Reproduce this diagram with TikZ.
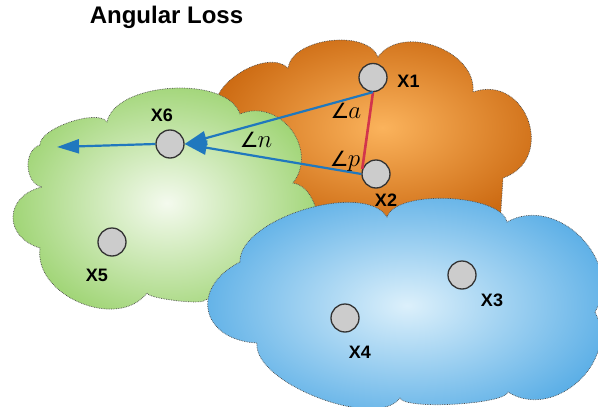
\RequirePackage{fix-cm}
\documentclass[tikz,border=0pt]{standalone}
\usepackage{fontspec}
\setsansfont{Liberation Sans}
\newfontfamily\symfont{DejaVu Sans}
\usetikzlibrary{arrows.meta}
\definecolor{orIn}{HTML}{FBB35C}
\definecolor{orOut}{HTML}{CC6A12}
\definecolor{grIn}{HTML}{F4FAEE}
\definecolor{grOut}{HTML}{9CD370}
\definecolor{blIn}{HTML}{DCF0FB}
\definecolor{blOut}{HTML}{5AAEE6}
\definecolor{arrblue}{HTML}{2078BE}
\definecolor{redline}{HTML}{D2344C}
\newcommand{\angsym}{{\symfont\fontsize{21}{21}\selectfont ∠}}
\tikzset{
  puff/.style={bend left=75, looseness=#1},
  cloudedge/.style={draw=black!70, densely dotted, line width=0.7pt},
  pt/.style={circle, draw=black!80, line width=1.3pt, fill=black!20, minimum size=28pt, inner sep=0pt},
  lab/.style={font=\sffamily\bfseries\fontsize{18}{18}\selectfont, inner sep=0pt},
  ang/.style={font=\fontsize{25}{25}\selectfont, inner sep=0pt},
  arr/.style={-{Triangle[length=22pt,width=14pt]}, line width=2.2pt, draw=arrblue},
}
\begin{document}
\begin{tikzpicture}[x=1pt,y=-1pt]
\useasboundingbox (0,0) rectangle (598,407);
% orange cloud
\path[cloudedge, inner color=orIn, outer color=orOut]
  (216,112) to[puff=0.88] (288,68) to[puff=0.86] (378,57) to[puff=1.05] (473,92)
  to[bend left=90, looseness=1.6] (503,178) -- (500,225) -- (300,232) -- (235,180) -- cycle;
% green cloud
\path[cloudedge, inner color=grIn, outer color=grOut]
  (40,145) to[puff=0.6] (107,122) to[puff=0.79] (240,114) to[puff=1.26] (293,183)
  to[puff=0.86] (305,265) -- (205,300) to[puff=0.25] (147,293) to[puff=1.06] (40,248)
  to[puff=1.62] (42,187) to[puff=1.09] cycle;
% blue cloud
\path[cloudedge, inner color=blIn, outer color=blOut]
  (240,262) to[puff=0.72] (387,217) to[puff=0.62] (507,222) to[puff=1.18] (595,312)
  to[puff=1.19] (508,392) to[puff=0.3] (400,398) to[puff=0.67] (257,343)
  to[puff=1.75] cycle;
% title
\node[font=\sffamily\bfseries\fontsize{24}{24}\selectfont, inner sep=0pt, anchor=base] (title) at (166.5,23) {Angular Loss};
% points
\node[pt] (X1) at (373,77.5) {};
\node[pt] (X2) at (376,174) {};
\node[pt] (X3) at (462,275) {};
\node[pt] (X4) at (345,318) {};
\node[pt] (X5) at (112,242) {};
\node[pt] (X6) at (170,144) {};
\coordinate (tipL) at (57,147);
% connectors
\draw[line width=2.6pt, draw=redline] (X1.south) -- (X2.160);
\draw[arr] (X1.south) -- (X6.east);
\draw[arr] (X2.west) -- (X6.east);
\draw[arr] (X6.west) -- (tipL);
% labels
\node[lab] (lX1) at (408.5,81) {X1};
\node[lab] (lX2) at (386,200) {X2};
\node[lab] (lX3) at (492,300) {X3};
\node[lab] (lX4) at (360,352) {X4};
\node[lab] (lX5) at (97,275) {X5};
\node[lab] (lX6) at (162,115) {X6};
\node[ang, anchor=base] (la) at (346,118) {\angsym\kern-1pt$a$};
\node[ang, anchor=base] (lp) at (345,166) {\angsym\kern-1pt$p$};
\node[ang, anchor=base] (ln) at (256,147) {\angsym\kern-1pt$n$};
\end{tikzpicture}
\end{document}
